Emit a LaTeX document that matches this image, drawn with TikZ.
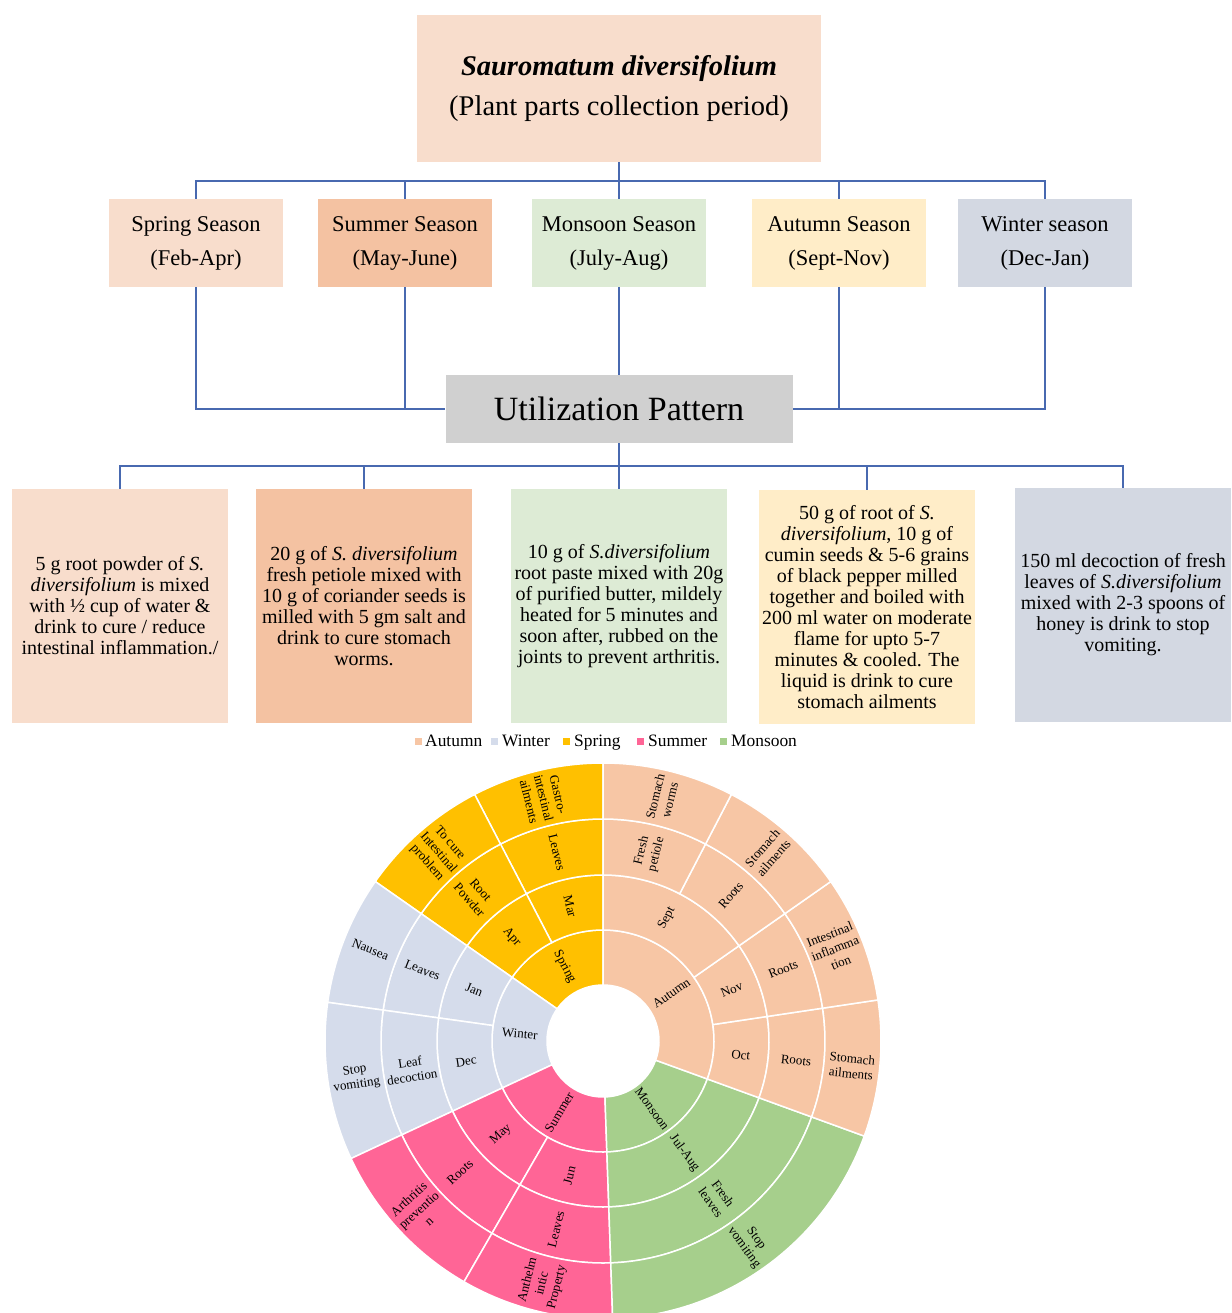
\documentclass[tikz,border=0pt]{standalone}
\usepackage{fontspec}
\setmainfont{Liberation Serif}
\usetikzlibrary{positioning}

% box colours
\definecolor{peachlight}{HTML}{F8DDCC}
\definecolor{peachdark}{HTML}{F4C2A2}
\definecolor{greenlight}{HTML}{DDEBD5}
\definecolor{yellowlight}{HTML}{FFEDC8}
\definecolor{greylight}{HTML}{D3D8E2}
\definecolor{utilgrey}{HTML}{D0D0D0}
\definecolor{linkblue}{HTML}{4869B0}
% sunburst colours
\definecolor{sbautumn}{HTML}{F7C6A5}
\definecolor{sbwinter}{HTML}{D5DCEB}
\definecolor{sbspring}{HTML}{FFC000}
\definecolor{sbsummer}{HTML}{FF6596}
\definecolor{sbmonsoon}{HTML}{A6CF8C}

\begin{document}
\begin{tikzpicture}[x=1pt,y=1pt,
  conn/.style={draw=linkblue, line width=1.5pt},
  seasonbox/.style={minimum width=174pt, minimum height=88pt, inner sep=0pt, align=center,
    font=\fontsize{22.5}{34}\selectfont},
  usebox/.style={minimum width=216pt, minimum height=234pt, inner sep=0pt, align=center,
    font=\fontsize{20}{21}\selectfont},
  legmark/.style={minimum size=7pt, inner sep=0pt},
  legtext/.style={anchor=base west, inner sep=0pt, font=\fontsize{17.4}{18}\selectfont},
  sblabel/.style={align=center, inner sep=0pt, font=\fontsize{13}{15}\selectfont}]

  \useasboundingbox (0,0) rectangle (1231,-1313);

  %title box
  \node[fill=peachlight, minimum width=404pt, minimum height=147pt, align=center,
    font=\fontsize{28.5}{40}\selectfont] (title) at (619,-88.5)
    {\textbf{\textit{Sauromatum diversifolium}}\\(Plant parts collection period)};

  %season boxes
  \node[seasonbox, fill=peachlight] (spring) at (196,-243) {Spring Season\\(Feb-Apr)};
  \node[seasonbox, fill=peachdark] (summer) at (405,-243) {Summer Season\\(May-June)};
  \node[seasonbox, fill=greenlight] (monsoon) at (619,-243) {Monsoon Season\\(July-Aug)};
  \node[seasonbox, fill=yellowlight] (autumn) at (839,-243) {Autumn Season\\(Sept-Nov)};
  \node[seasonbox, fill=greylight] (winter) at (1045,-243) {Winter season\\(Dec-Jan)};

  %title to seasons
  \draw[conn] (title.south) -- (monsoon.north);
  \draw[conn] (spring.north) -- ++(0,18) -| (winter.north);
  \draw[conn] (summer.north) -- ++(0,18);
  \draw[conn] (autumn.north) -- ++(0,18);

  %utilization box
  \node[fill=utilgrey, minimum width=347pt, minimum height=68pt,
    font=\fontsize{34}{36}\selectfont] (util) at (619,-409) {Utilization Pattern};

  %seasons to utilization
  \draw[conn] (spring.south) |- (util.west);
  \draw[conn] (summer.south) -- (summer.south |- util.west);
  \draw[conn] (monsoon.south) -- (util.north);
  \draw[conn] (winter.south) |- (util.east);
  \draw[conn] (autumn.south) -- (autumn.south |- util.east);

  %pattern boxes
  \node[usebox, fill=peachlight] (pspring) at (120,-606)
    {5 g root powder of \textit{S.}\\\textit{diversifolium} is mixed\\with ½ cup of water \&\\drink to cure / reduce\\intestinal inflammation./};
  \node[usebox, fill=peachdark] (psummer) at (364,-606)
    {20 g of \textit{S. diversifolium}\\fresh petiole mixed with\\10 g of coriander seeds is\\milled with 5 gm salt and\\drink to cure stomach\\worms.};
  \node[usebox, fill=greenlight] (pmonsoon) at (619,-606)
    {10 g of \textit{S.diversifolium}\\root paste mixed with 20g\\of purified butter, mildely\\heated for 5 minutes and\\soon after, rubbed on the\\joints to prevent arthritis.};
  \node[usebox, fill=yellowlight] (pautumn) at (867,-607)
    {50 g of root of \textit{S.}\\\textit{diversifolium}, 10 g of\\cumin seeds \& 5-6 grains\\of black pepper milled\\together and boiled with\\200 ml water on moderate\\flame for upto 5-7\\minutes \& cooled. The\\liquid is drink to cure\\stomach ailments};
  \node[usebox, fill=greylight] (pwinter) at (1123,-605)
    {150 ml decoction of fresh\\leaves of \textit{S.diversifolium}\\mixed with 2-3 spoons of\\honey is drink to stop\\vomiting.};

  %utilization to pattern boxes
  \draw[conn] (util.south) -- (pmonsoon.north);
  \draw[conn] (pspring.north) -- ++(0,23) -| (pwinter.north);
  \draw[conn] (psummer.north) -- ++(0,23);
  \draw[conn] (pautumn.north) -- ++(0,23);

  %legend
  \node[legmark, fill=sbautumn] (mkautumn) at (418,-741) {};
  \node[legtext] (lgautumn) at (425,-746) {Autumn};
  \node[legmark, fill=sbwinter] (mkwinter) at (494,-741) {};
  \node[legtext] (lgwinter) at (502,-746) {Winter};
  \node[legmark, fill=sbspring] (mkspring) at (566,-741) {};
  \node[legtext] (lgspring) at (574,-746) {Spring};
  \node[legmark, fill=sbsummer] (mksummer) at (640,-741) {};
  \node[legtext] (lgsummer) at (648,-746) {Summer};
  \node[legmark, fill=sbmonsoon] (mkmonsoon) at (723,-741) {};
  \node[legtext] (lgmonsoon) at (731,-746) {Monsoon};

  %sunburst
  \begin{scope}[shift={(603,-1041)}]
    % cells: start / end / inner / outer / colour
    \foreach \a/\b/\ri/\ro/\c in {
      90/145/56/111/sbspring, 145/205/56/111/sbwinter, 205/272/56/111/sbsummer,
      272/340/56/111/sbmonsoon, 340/450/56/111/sbautumn,
      90/117.5/111/166/sbspring, 117.5/145/111/166/sbspring,
      145/172/111/166/sbwinter, 172/205/111/166/sbwinter,
      205/240/111/166/sbsummer, 240/272/111/166/sbsummer,
      272/340/111/166/sbmonsoon,
      340/368.5/111/166/sbautumn, 368.5/395/111/166/sbautumn, 395/450/111/166/sbautumn,
      90/117.5/166/222/sbspring, 117.5/145/166/222/sbspring,
      145/172/166/222/sbwinter, 172/205/166/222/sbwinter,
      205/240/166/222/sbsummer, 240/272/166/222/sbsummer,
      272/340/166/222/sbmonsoon,
      340/368.5/166/222/sbautumn, 368.5/395/166/222/sbautumn,
      395/422.5/166/222/sbautumn, 422.5/450/166/222/sbautumn,
      90/117.5/222/278/sbspring, 117.5/145/222/278/sbspring,
      145/172/222/278/sbwinter, 172/205/222/278/sbwinter,
      205/240/222/278/sbsummer, 240/272/222/278/sbsummer,
      272/340/222/278/sbmonsoon,
      340/368.5/222/278/sbautumn, 368.5/395/222/278/sbautumn,
      395/422.5/222/278/sbautumn, 422.5/450/222/278/sbautumn}
      \filldraw[fill=\c, draw=white, line width=1.5pt]
        (\a:\ri) arc[start angle=\a, end angle=\b, radius=\ri]
        -- (\b:\ro) arc[start angle=\b, end angle=\a, radius=\ro] -- cycle;

    % labels: angle / radius / rotation / text
    \foreach \t/\r/\rot/\txt in {
      117.5/83.5/-62.5/Spring, 175/83.5/-5/Winter, 238.5/83.5/58.5/Summer,
      306/83.5/-54/Monsoon, 35/83.5/35/Autumn,
      103.75/138.5/-76.25/Mar, 131.25/138.5/-48.75/Apr, 158.5/138.5/-21.5/Jan,
      188.5/138.5/8.5/Dec, 222.5/138.5/42.5/May, 256/138.5/76/Jun,
      306/138.5/-54/Jul-Aug, 354.25/138.5/-5.75/Oct, 21.75/138.5/21.75/Nov,
      62.5/138.5/62.5/Sept,
      103.75/194/-76.25/Leaves, 131.25/194/-48.75/{Root\\Powder},
      158.5/194/-21.5/Leaves, 188.5/194/8.5/{Leaf\\decoction},
      222.5/194/42.5/Roots, 256/194/76/Leaves, 306/194/-54/{Fresh\\leaves},
      354.25/194/-5.75/Roots, 21.75/194/21.75/Roots, 48.75/194/48.75/Roots,
      76.25/194/76.25/{Fresh\\petiole},
      103.75/250/-76.25/{Gastro-\\intestinal\\ailments},
      131.25/250/-48.75/{To cure\\Intestinal\\problem},
      158.5/250/-21.5/Nausea, 188.5/250/8.5/{Stop\\vomiting},
      222.5/250/42.5/{Arthritis\\preventio\\n},
      256/250/76/{Anthelm\\intic\\Property},
      306/250/-54/{Stop\\vomiting},
      354.25/250/-5.75/{Stomach\\ailments},
      21.75/250/21.75/{Intestinal\\inflamma\\tion},
      48.75/250/48.75/{Stomach\\ailments},
      76.25/250/76.25/{Stomach\\worms}}
      \node[sblabel, rotate=\rot] at (\t:\r) {\txt};
  \end{scope}
\end{tikzpicture}
\end{document}
